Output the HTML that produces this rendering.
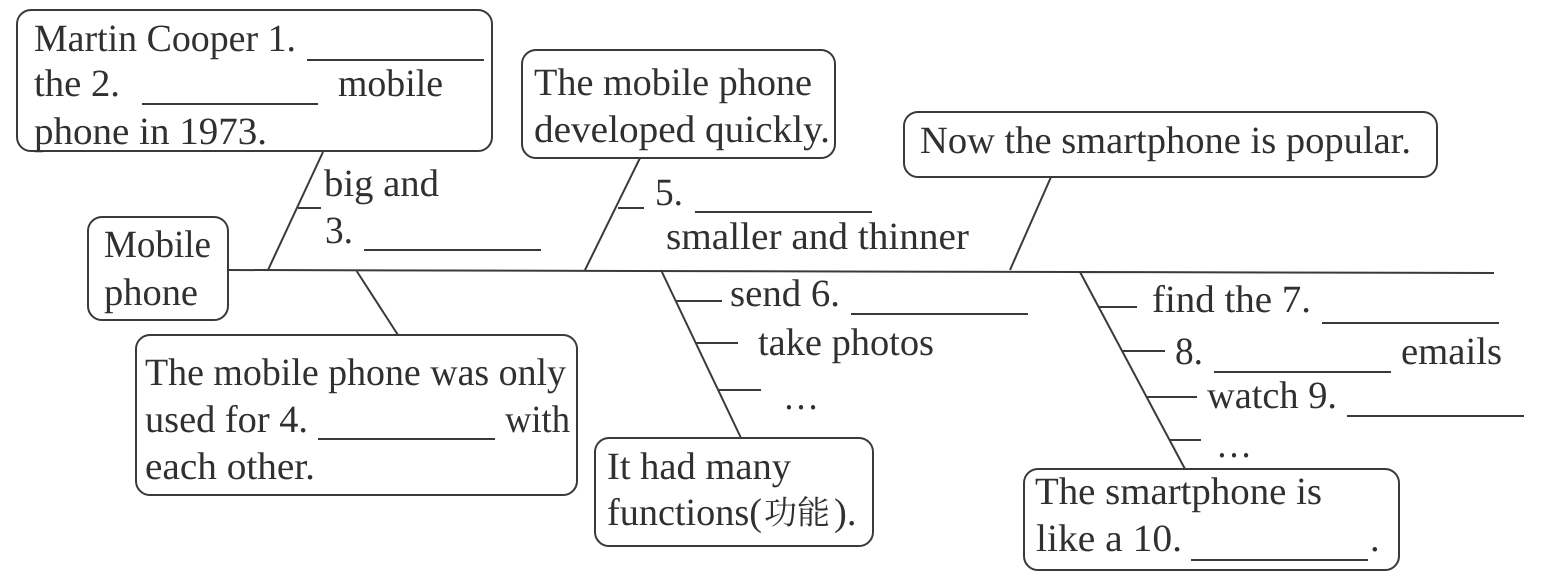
<!DOCTYPE html>
<html><head><meta charset="utf-8"><style>
html,body{margin:0;padding:0;background:#fff;width:1550px;height:576px;overflow:hidden}
svg{display:block}
text{font-family:"Liberation Serif","Noto Serif CJK SC",serif;font-size:38.5px;fill:#303030;text-rendering:geometricPrecision}
.b{fill:none;stroke:#3a3a3a;stroke-width:2}
.l{stroke:#3a3a3a;stroke-width:2;fill:none}
</style></head><body>
<svg width="1550" height="576" viewBox="0 0 1550 576">
<rect class="b" x="17" y="10" width="475" height="141" rx="14"/>
<rect class="b" x="522" y="50" width="313" height="108" rx="14"/>
<rect class="b" x="904" y="112" width="533" height="65" rx="14"/>
<rect class="b" x="88" y="217" width="140" height="103" rx="14"/>
<rect class="b" x="136" y="335" width="441" height="160" rx="14"/>
<rect class="b" x="595" y="438" width="278" height="108" rx="14"/>
<rect class="b" x="1024" y="469" width="375" height="101" rx="14"/>
<path class="l" d="M228 270L1494 273M323 152L268 270M298 208H321M640 158L585 270M618 208H644M1051 177L1010 270M356 270L398 335M661 270L741 438M676 301H722M696 343H738M719 390H761M1080 272L1185 469M1098 307H1137M1122 351H1165M1146 397H1197M1170 440H1201"/>
<path class="l" d="M307 60H484M142 104H318M364 250H541M695 212H872M851 314H1028M1322 323H1499M1214 372H1391M1347 416H1524M318 439H495M1191 560H1368"/>
<g transform="translate(0,1)">
<text lengthAdjust="spacingAndGlyphs" x="34" y="50" textLength="262">Martin Cooper 1.</text>
<text lengthAdjust="spacingAndGlyphs" x="34" y="95" textLength="86">the 2.</text>
<text lengthAdjust="spacingAndGlyphs" x="338" y="95" textLength="105">mobile</text>
<text lengthAdjust="spacingAndGlyphs" x="34" y="143" textLength="233">phone in 1973.</text>
<text lengthAdjust="spacingAndGlyphs" x="534" y="94" textLength="278">The mobile phone</text>
<text lengthAdjust="spacingAndGlyphs" x="534" y="141" textLength="296">developed quickly.</text>
<text lengthAdjust="spacingAndGlyphs" x="920" y="152" textLength="491">Now the smartphone is popular.</text>
<text lengthAdjust="spacingAndGlyphs" x="104" y="256" textLength="107">Mobile</text>
<text lengthAdjust="spacingAndGlyphs" x="104" y="304" textLength="94">phone</text>
<text lengthAdjust="spacingAndGlyphs" x="324" y="195" textLength="115">big and</text>
<text lengthAdjust="spacingAndGlyphs" x="325" y="242" textLength="28">3.</text>
<text lengthAdjust="spacingAndGlyphs" x="655" y="204" textLength="28">5.</text>
<text lengthAdjust="spacingAndGlyphs" x="666" y="248" textLength="303">smaller and thinner</text>
<text lengthAdjust="spacingAndGlyphs" x="730" y="305" textLength="110">send 6.</text>
<text lengthAdjust="spacingAndGlyphs" x="758" y="354" textLength="176">take photos</text>
<text lengthAdjust="spacingAndGlyphs" x="783" y="408" textLength="36">…</text>
<text lengthAdjust="spacingAndGlyphs" x="1152" y="311" textLength="159">find the 7.</text>
<text lengthAdjust="spacingAndGlyphs" x="1175" y="363" textLength="28">8.</text>
<text lengthAdjust="spacingAndGlyphs" x="1401" y="363" textLength="101">emails</text>
<text lengthAdjust="spacingAndGlyphs" x="1207" y="407" textLength="130">watch 9.</text>
<text lengthAdjust="spacingAndGlyphs" x="1216" y="456" textLength="36">…</text>
<text lengthAdjust="spacingAndGlyphs" x="145" y="384" textLength="421">The mobile phone was only</text>
<text lengthAdjust="spacingAndGlyphs" x="145" y="431" textLength="163">used for 4.</text>
<text lengthAdjust="spacingAndGlyphs" x="505" y="431" textLength="65">with</text>
<text lengthAdjust="spacingAndGlyphs" x="145" y="478" textLength="170">each other.</text>
<text lengthAdjust="spacingAndGlyphs" x="607" y="478" textLength="184">It had many</text>
<text lengthAdjust="spacingAndGlyphs" x="607" y="524" textLength="155">functions(</text>
<text style="font-size:33px;font-family:'Noto Serif CJK SC',serif" x="764" y="523">功能</text>
<text x="834" y="524">).</text>
<text lengthAdjust="spacingAndGlyphs" x="1035" y="503" textLength="287">The smartphone is</text>
<text lengthAdjust="spacingAndGlyphs" x="1036" y="550" textLength="146">like a 10.</text>
<text x="1370" y="550">.</text>
</g>
</svg>
</body></html>
